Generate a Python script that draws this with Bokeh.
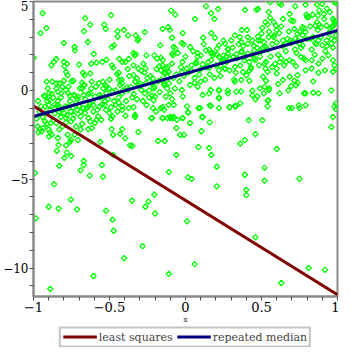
from bokeh.plotting import figure
from bokeh.models import Legend, FixedTicker
from bokeh.layouts import column
from bokeh.embed import file_html
from bokeh.resources import INLINE

# ---------------- data ----------------
upper_left = [(-0.94,4.34),(-0.954,3.22),(-0.915,3.5),(-0.998,1.83),(-0.80,2.66),(-0.73,2.44),(-0.727,2.25),
    (-0.66,4.06),(-0.627,3.7),(-0.668,3.33),(-0.642,2.72),(-0.604,2.05),(-0.49,4.23),(-0.535,3.7),(-0.525,3.46),
    (-0.447,3.33),(-0.405,3.4),(-0.446,3.03),(-0.378,3.09),(-0.484,2.44),(-0.47,2.53),(-0.52,1.73),(-0.547,1.6),
    (-0.585,1.56),(-0.62,1.5),(-0.484,1.41),(-0.475,1.28),(-0.437,1.77),(-0.416,1.6),(-0.395,1.6),(-0.373,1.77),
    (-0.44,0.99),(-0.85,1.77),(-0.866,1.6),(-0.882,1.41),(-0.80,1.6),(-0.78,1.5),(-0.797,1.36),(-0.786,1.04),
    (-0.776,0.85),(-0.80,0.54),(-0.70,1.45),(-0.674,0.99),(-0.665,0.85),(-0.627,0.95),(-0.913,0.49),(-0.877,0.49),
    (-0.85,0.39),(-0.83,0.39),(-0.738,0.54),(-0.68,0.43),(-0.665,0.3),(-0.695,0.11),(-0.617,0.49),(-0.543,0.49),
    (-0.528,0.3),(-0.505,0.11),(-0.437,0.58),(-0.416,0.39),(-0.384,0.17),(-0.906,0.11),(-0.898,-0.17),(-0.924,-0.35),
    (-0.892,-0.54),(-0.84,-0.07),(-0.818,-0.17),(-0.786,0.02),(-0.771,-0.17),(-0.733,-0.26),(-0.708,-0.35),
    (-0.67,-0.26),(-0.627,-0.17),(-0.596,-0.35),(-0.565,-0.26),(-0.522,-0.17),(-0.48,-0.07),(-0.416,-0.17),(-0.378,0.02)]

upper_mid = [(0.135,4.73),(0.215,4.58),(-0.094,4.49),(-0.067,4.26),(0.168,4.34),(0.19,4.02),(0.062,4.02),
    (-0.268,3.28),(-0.151,3.46),(-0.113,3.56),(-0.103,3.4),(-0.327,3.09),(-0.31,2.9),(-0.314,2.81),(-0.088,2.96),
    (-0.018,3.22),(0.117,2.96),(0.17,3.22),(0.194,2.96),(-0.024,2.66),(-0.013,2.59),(-0.166,2.53),(-0.078,2.44),
    (-0.067,2.35),(0.03,2.44),(0.22,2.53),(0.208,2.35),(0.26,2.63),(0.30,2.81),(0.325,3.09),(0.28,2.35),
    (-0.342,2.1),(-0.327,2.03),(-0.335,1.97),(-0.257,1.97),(-0.205,1.97),(-0.187,1.79),(-0.162,1.84),(-0.088,2.07),
    (-0.082,1.97),(0.08,2.1),(0.1,1.97),(0.135,2.25),(0.156,2.29),(0.17,2.1),(0.18,1.97),(0.22,1.88),(0.25,1.97),
    (0.28,2.07),(0.314,1.88),(0.335,2.03),(0.244,1.69),(0.27,1.6),(-0.342,1.41),(-0.31,1.23),(-0.278,1.5),
    (-0.263,1.23),(-0.173,1.36),(-0.151,1.41),(-0.13,1.23),(-0.162,1.13),(-0.14,0.95),(-0.11,1.04),(-0.12,0.77),
    (-0.024,1.04),(0.008,1.23),(0.04,1.41),(0.07,1.6),(0.113,1.47),(0.156,1.28),(0.2,1.41),(0.22,1.13),(0.26,1.23),
    (0.29,1.13),(0.325,1.32),(-0.32,0.67),(-0.3,0.39),(-0.33,0.49),(-0.29,0.02),(-0.268,-0.17),(-0.342,0.85),
    (-0.215,0.67),(-0.225,0.39),(-0.205,0.2),(-0.14,0.39),(-0.12,0.11),(-0.1,-0.17),(-0.13,-0.35),(-0.088,-0.5),
    (-0.024,0.02),(0.06,0.43),(0.1,0.49),(0.08,0.2),(0.166,0.02),(0.22,-0.02),(0.277,-0.02),(0.22,-0.45),
    (0.113,-0.26),(-0.018,-0.35),(0.325,0.49),(0.335,-0.07)]

upper_right = [(0.557,4.96),(0.617,4.9),(0.63,4.82),(0.722,4.73),(0.79,4.82),(0.865,4.82),(0.9,4.86),(0.98,4.96),
    (0.99,4.9),(0.392,4.53),(0.467,4.53),(0.477,4.58),(0.547,4.4),(0.557,4.08),(0.526,3.84),(0.685,4.3),(0.642,4.02),
    (0.695,3.93),(0.795,4.26),(0.8,4.12),(0.81,4.12),(0.837,4.26),(0.87,4.21),(0.913,4.02),(0.95,4.4),(0.97,4.02),
    (0.98,3.84),(0.371,3.4),(0.405,3.4),(0.505,3.52),(0.54,3.7),(0.58,3.84),(0.595,3.65),(0.6,3.4),(0.617,3.22),
    (0.583,3.09),(0.716,3.46),(0.77,3.56),(0.737,3.18),(0.79,3.28),(0.865,3.84),(0.854,3.65),(0.89,3.56),(0.928,3.65),
    (0.96,3.56),(0.98,3.74),(0.477,3.03),(0.494,2.81),(0.516,2.72),(0.547,3.0),(0.357,3.0),(0.367,2.72),(0.41,2.63),
    (0.44,2.81),(0.642,2.81),(0.663,2.63),(0.695,2.66),(0.722,2.9),(0.748,2.63),(0.77,2.53),(0.822,2.9),(0.854,2.66),
    (0.875,2.81),(0.9,2.53),(0.928,2.81),(0.96,2.63),(0.98,2.81),(0.367,2.16),(0.41,2.07),(0.452,2.25),(0.494,2.16),
    (0.526,2.44),(0.388,1.69),(0.42,1.6),(0.452,1.79),(0.484,1.41),(0.43,1.23),(0.378,1.04),(0.4,0.85),(0.367,0.58),
    (0.42,0.54),(0.52,1.5),(0.526,1.23),(0.54,1.04),(0.51,0.77),(0.53,0.54),(0.52,0.2),(0.547,0.02),(0.59,1.5),
    (0.6,1.23),(0.62,1.6),(0.65,1.41),(0.685,1.69),(0.705,1.6),(0.727,1.36),(0.76,1.88),(0.79,1.69),(0.83,1.69),
    (0.875,1.5),(0.9,1.79),(0.94,1.97),(0.97,1.69),(0.98,1.41),(0.6,0.95),(0.64,0.58),(0.685,0.77),(0.716,0.54),
    (0.737,0.85),(0.79,1.13),(0.83,1.23),(0.875,0.99),(0.917,1.13),(0.97,1.04),(0.995,1.23),(0.44,-0.02),(0.49,0.11),
    (0.61,0.35),(0.695,0.24),(0.737,0.43),(0.78,-0.17),(0.84,-0.13),(0.46,-0.5),(0.54,-0.58),(0.155,-0.17),(0.22,0.02),
    (0.28,-0.17),(0.365,-0.06),(0.473,-0.34),(0.516,-0.17),(0.55,0.11),(0.62,-0.17),(0.676,0.0),(0.727,0.28),
    (0.79,-0.17),(0.84,0.5),(0.875,-0.17),(0.96,0.0),(0.99,-0.73)]

lower_band = [(-0.973,-2.03),(-0.957,-2.18),(-0.946,-2.3),(-0.968,-2.36),(-0.935,-2.12),(-0.924,-1.75),(-0.913,-1.88),
    (-0.886,-1.84),(-0.9,-2.2),(-0.892,-2.36),(-0.88,-2.5),(-0.898,-2.6),(-0.84,-2.68),(-0.83,-2.2),(-0.85,-1.84),
    (-0.81,-2.03),(-0.786,-1.8),(-0.754,-1.75),(-0.72,-2.03),(-0.69,-2.2),(-0.68,-1.88),(-0.818,-1.1),(-0.797,-1.28),
    (-0.786,-1.56),(-0.754,-1.19),(-0.733,-1.38),(-0.712,-1.1),(-0.69,-1.47),(-0.66,-1.28),(-0.638,-1.56),(-0.627,-1.75),
    (-0.606,-1.19),(-0.575,-1.47),(-0.554,-1.66),(-0.522,-1.1),(-0.5,-1.28),(-0.48,-1.47),(-0.447,-1.19),(-0.416,-1.1),
    (-0.395,-1.43),(-0.416,-2.18),(-0.617,-2.12),(-0.596,-1.84),(-0.585,-1.66),(-0.776,-2.5),(-0.754,-2.78),
    (-0.342,-0.95),(-0.332,-1.38),(-0.332,-1.5),(-0.257,-0.82),(-0.215,-1.0),(-0.194,-1.19),(-0.151,-0.95),(-0.14,-1.1),
    (-0.151,-1.56),(-0.225,-1.56),(-0.11,-0.82),(-0.077,-0.82),(-0.12,-1.56),(-0.1,-1.5),(-0.077,-1.5),(-0.056,-1.66),
    (-0.018,-1.56),(0.018,-1.25),(0.097,-1.0),(0.166,-0.88),(0.113,-1.5),(0.29,-0.95),(0.325,-0.88),(-0.924,-0.91),
    (-0.9,-0.82),(-0.86,-1.0),(-0.84,-0.82),(-0.83,-0.95),(-0.776,-0.91),(-0.7,-0.88),(-0.67,-1.0),(-0.638,-0.91),
    (-0.606,-0.82),(-0.565,-0.91),(-0.532,-0.82),(-0.49,-0.95),(-0.458,-0.82),(-0.416,-0.91),(-0.373,-1.0),
    (-0.162,-1.0),(0.01,-0.9),(0.22,-1.0),(0.33,-0.9),(0.54,-0.9),(0.75,-1.0),(0.79,-0.84),(0.98,-0.9),
    (0.545,-0.56),(0.44,-0.28),(0.22,-0.4),(0.33,-0.9),(0.29,-0.95),(0.36,-0.73),(0.16,-0.84),(0.016,-1.23),
    (0.085,-1.0),(0.11,-1.5),(-0.02,-1.56),(-0.1,-1.56),(-0.085,-1.56),(-0.15,-1.56),(-0.22,-1.56),(-0.24,-0.4),
    (-0.2,-0.34),(-0.21,-0.56)]

core_band = [(-0.96,-1.2),(-0.94,-1.5),(-0.97,-0.6),(-0.93,-0.3),(-0.86,-1.3),(-0.84,-0.6),(-0.87,-0.4),(-0.82,-1.5),
    (-0.85,0.1),(-0.76,-0.6),(-0.74,-1.0),(-0.73,-0.3),(-0.77,0.2),(-0.72,-0.7),(-0.66,-0.5),(-0.64,-0.2),(-0.63,-0.8),
    (-0.67,0.3),(-0.62,0.1),(-0.56,-0.4),(-0.54,0.1),(-0.53,-0.6),(-0.57,0.4),(-0.52,0.2),(-0.46,0.0),(-0.44,-0.4),
    (-0.43,0.3),(-0.47,-0.6),(-0.42,0.6),(-0.36,0.2),(-0.34,-0.2),(-0.33,0.5),(-0.37,0.8),(-0.32,-0.5),(-0.26,0.4),
    (-0.24,0.0),(-0.23,0.8),(-0.27,1.0),(-0.22,-0.3),(-0.16,0.6),(-0.14,0.3),(-0.13,1.0),(-0.17,-0.1),(-0.12,1.3),
    (-0.06,0.9),(-0.04,0.5),(-0.03,1.3),(-0.07,0.1),(-0.02,1.6),(0.04,1.1),(0.06,0.7),(0.07,1.5),(0.03,0.3),(0.08,1.9),
    (0.14,1.3),(0.16,0.9),(0.17,1.7),(0.13,0.6),(0.18,2.1),(0.24,1.6),(0.26,1.2),(0.27,1.9),(0.23,0.8),(0.28,2.3),
    (0.34,1.8),(0.36,1.4),(0.37,2.2),(0.33,1.0),(0.38,2.5),(0.44,2.0),(0.46,1.7),(0.47,2.4),(0.43,1.3),(0.48,2.8),
    (0.54,2.3),(0.56,1.9),(0.57,2.6),(0.53,1.6),(0.58,3.0),(0.64,2.5),(0.66,2.2),(0.67,2.9),(0.63,1.8),(0.68,3.3),
    (0.74,2.8),(0.76,2.4),(0.77,3.1),(0.73,2.1),(0.78,3.5),(0.84,3.0),(0.86,2.6),(0.87,3.4),(0.83,2.3),(0.88,3.7),
    (0.94,3.2),(0.96,2.9),(0.97,3.6),(0.93,2.5),(0.98,3.9)]

dense_extra = [(-0.98,-1.6),(-0.95,-0.9),(-0.92,-1.3),(-0.91,-0.6),(-0.89,-1.1),(-0.88,-0.2),(-0.87,-1.7),(-0.86,-0.8),
    (-0.83,-1.2),(-0.82,-0.4),(-0.81,0.2),(-0.79,-0.9),(-0.78,-1.4),(-0.76,-0.3),(-0.75,0.5),(-0.74,-1.6),(-0.71,-0.5),
    (-0.69,-1.2),(-0.68,0.1),(-0.65,-1.0),(-0.61,-0.6),(-0.59,0.2),(-0.58,-1.1),(-0.55,-0.8),(-0.51,-0.5),(-0.5,0.6),
    (-0.49,-1.6),(-0.45,0.9),(-0.44,-0.7),(-0.41,0.0),(-0.39,-0.6),(-0.38,1.2),(-0.35,-0.4),(-0.31,0.3),(-0.29,1.1),
    (-0.28,-0.6),(-0.25,0.7),(-0.21,0.1),(-0.19,1.2),(-0.18,0.5),(-0.15,1.7),(-0.11,0.4),(-0.09,1.5),(-0.08,0.7),
    (-0.05,2.1),(-0.01,0.8),(0.0,1.9),(0.02,1.0),(0.05,2.2),(0.09,0.9),(0.1,1.2),(0.12,2.6),(0.15,1.6),(0.19,0.7),
    (0.21,2.0),(0.23,1.4),(0.25,2.8),(0.29,1.8),(0.31,2.4),(0.32,0.6),(0.35,2.6),(0.39,1.9),(0.41,3.0),(0.42,1.1),
    (0.45,2.5),(0.49,1.9),(0.5,3.2),(0.51,2.4),(0.55,3.3),(0.57,1.3),(0.6,2.7),(0.61,2.0),(0.63,3.6),(0.66,1.6),
    (0.69,2.8),(0.71,3.9),(0.72,2.3),(0.75,3.3),(0.78,1.8),(0.8,2.9),(0.82,3.6),(0.85,2.0),(0.89,3.0),(0.91,4.3),
    (0.92,2.2),(0.95,3.5),(0.97,2.4),(0.99,3.1),(0.93,4.6),(0.88,4.5)]

outliers = [(-0.99,-4.64),(-0.865,-5.28),(-0.754,-6.15),(-0.83,-4.25),(-0.797,-3.8),(-0.847,-3.4),(-0.835,-3.07),
    (-0.786,-3.1),(-0.78,-3.5),(-0.752,-3.7),(-0.76,-2.9),(-0.707,-2.8),(-0.67,-3.97),(-0.67,-4.2),(-0.69,-4.5),
    (-0.63,-4.8),(-0.543,-4.86),(-0.55,-4.2),(-0.56,-2.9),(-0.486,-2.18),(-0.43,-2.45),(-0.365,-3.1),(-0.64,-2.18),
    (-0.73,-2.5),(-0.31,-2.35),(-0.18,-2.85),(-0.137,-2.85),(-0.06,-3.63),(-0.11,-4.6),(0.016,-4.9),(0.04,-4.98),
    (0.085,-3.2),(0.155,-3.24),(0.17,-3.63),(0.206,-4.3),(0.206,-5.4),(-0.205,-5.87),(-0.244,-6.26),(0.105,-2.3),
    (0.16,-1.8),(-0.035,-2.5),(-0.01,-2.5),(-0.06,-2.12),(0.03,-1.84),(-0.35,-3.13),(0.416,-1.68),(0.505,-1.68),
    (0.46,-2.46),(0.39,-2.8),(0.36,-3.0),(0.6,-3.3),(0.52,-4.36),(0.39,-4.75),(0.52,-5.08),(0.75,-4.97),(0.40,-5.6),
    (0.40,-5.9),(0.97,-1.5),(0.96,-2.07),(0.99,-1.06),(0.68,-1.0),(0.70,-1.0),(0.745,-0.84),(-0.985,-7.2),(-0.90,-6.55),
    (-0.835,-6.65),(-0.714,-6.7),(-0.89,-11.17),(-0.606,-10.45),(-0.523,-6.77),(-0.48,-7.27),(-0.473,-7.9),
    (-0.403,-9.44),(-0.352,-6.2),(-0.264,-6.55),(-0.2,-6.93),(-0.283,-8.77),(-0.11,-10.33),(0.01,-7.37),(0.06,-9.78),
    (0.46,-8.27),(0.63,-10.84),(0.81,-10.0),(0.917,-10.1),(-0.476,-3.63),(-0.476,-2.5),(-0.397,-2.7)]

# fitted lines (end values)
line_x = [-1.0, 1.0]
least_squares_y = [-0.88, -11.5]
repeated_median_y = [-1.47, 3.37]

x_major = [-1, -0.5, 0, 0.5, 1]
x_labels = ["\u22121", "\u22120.5", "0", "0.5", "1"]
x_minor = [-0.9, -0.8, -0.7, -0.6, -0.4, -0.3, -0.2, -0.1, 0.1, 0.2, 0.3, 0.4, 0.6, 0.7, 0.8, 0.9]
y_major = [-10, -5, 0, 5]
y_labels = ["\u221210", "\u22125", "0", "5"]
y_minor = [-11, -9, -8, -7, -6, -4, -3, -2, -1, 1, 2, 3, 4]
series_names = ["least squares", "repeated median"]
series_colors = ["#800000", "#000080"]

# ---------------- plot ----------------
pts = upper_left + upper_mid + upper_right + lower_band + core_band + dense_extra + outliers
px = [a for a, b in pts]
py = [b for a, b in pts]

FONT = "DejaVu Serif"
AXC = "#8a8a8a"

p = figure(width=339, height=326, x_range=(-1, 1), y_range=(-11.6, 5.0),
           output_backend="svg", toolbar_location=None,
           min_border_left=29, min_border_right=2, min_border_top=1, min_border_bottom=0)
p.grid.visible = False
p.outline_line_color = AXC
p.outline_line_width = 2
p.background_fill_color = "white"

p.scatter(px, py, marker="square", angle=0.7854, size=3.8, fill_color=None,
          line_color="#00ff00", line_width=1.3)

p.line(line_x, least_squares_y, line_color=series_colors[0], line_width=3)
p.line(line_x, repeated_median_y, line_color=series_colors[1], line_width=3)

for ax, major, labels, minor, fs in ((p.xaxis[0], x_major, x_labels, x_minor, "13px"),
                                     (p.yaxis[0], y_major, y_labels, y_minor, "12px")):
    ax.ticker = FixedTicker(ticks=major, minor_ticks=minor)
    ax.major_label_overrides = {float(v): s for v, s in zip(major, labels)}
    ax.axis_line_color = AXC
    ax.axis_line_width = 2
    ax.major_tick_line_color = "#505050"
    ax.minor_tick_line_color = "#505050"
    ax.major_tick_in = 0
    ax.minor_tick_in = 0
    ax.major_tick_out = 4
    ax.minor_tick_out = 4
    ax.major_label_text_font = FONT
    ax.major_label_text_font_size = fs
    ax.major_label_text_color = "black"
    ax.major_label_standoff = 1

p.xaxis.axis_label = "x"
p.xaxis.axis_label_text_font = FONT
p.xaxis.axis_label_text_font_style = "normal"
p.xaxis.axis_label_text_font_size = "8px"
p.xaxis.axis_label_standoff = 0

# legend strip under the plot; its line renderers use the same data but lie outside its view
lg = figure(width=339, height=21, x_range=(-1, 1), y_range=(50, 51),
            output_backend="svg", toolbar_location=None,
            min_border_left=0, min_border_right=0, min_border_top=0, min_border_bottom=0)
lg.axis.visible = False
lg.grid.visible = False
lg.outline_line_color = None
items = []
for name, col, ys in zip(series_names, series_colors, (least_squares_y, repeated_median_y)):
    r = lg.line(line_x, ys, line_color=col, line_width=3)
    items.append((name, [r]))
legend = Legend(items=items, orientation="horizontal", location="center",
                border_line_color=AXC, border_line_width=2,
                label_text_font=FONT, label_text_font_size="11px",
                glyph_width=34, glyph_height=12, label_height=12,
                label_standoff=2, padding=2, spacing=4, margin=0)
lg.add_layout(legend)

layout = column(p, lg, spacing=0)
open("out.html", "w").write(file_html(layout, INLINE))
